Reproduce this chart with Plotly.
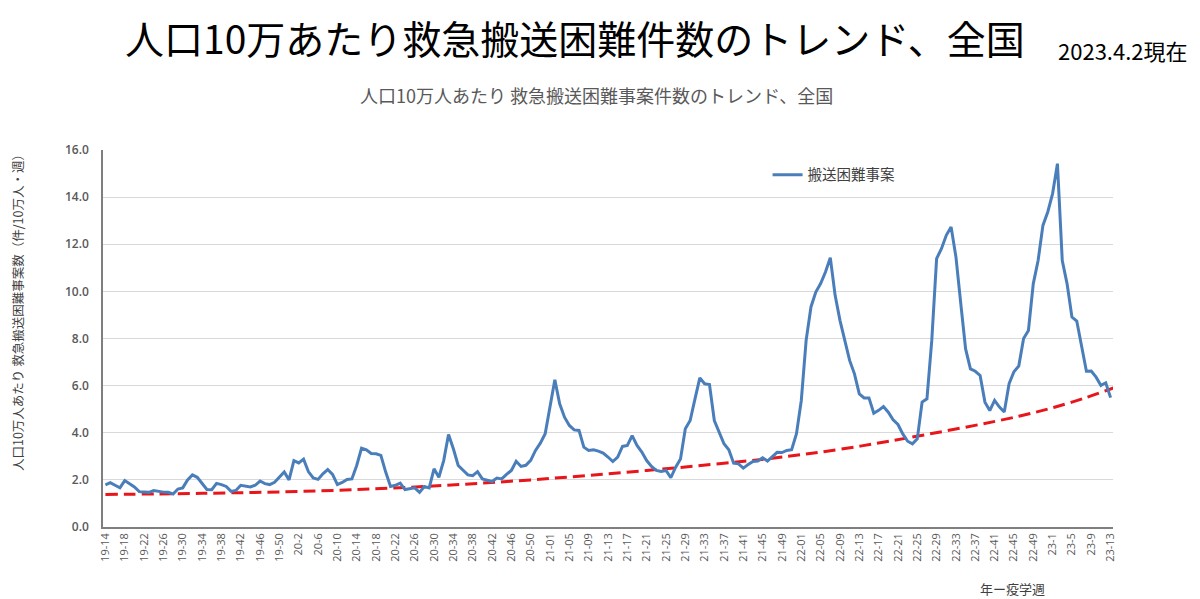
import plotly.graph_objects as go

# weekly values, 19-14 .. 23-13 (209 weeks)
values = [
    1.79, 1.88, 1.77, 1.66, 1.97, 1.84, 1.70, 1.50, 1.48, 1.47,
    1.55, 1.51, 1.48, 1.47, 1.40, 1.61, 1.66, 2.00, 2.21, 2.11,
    1.86, 1.59, 1.58, 1.85, 1.80, 1.72, 1.51, 1.55, 1.77, 1.72,
    1.70, 1.77, 1.95, 1.84, 1.80, 1.90, 2.14, 2.34, 2.00, 2.82,
    2.72, 2.88, 2.35, 2.08, 2.02, 2.26, 2.44, 2.23, 1.80, 1.89,
    2.02, 2.04, 2.61, 3.35, 3.28, 3.12, 3.11, 3.04, 2.33, 1.72,
    1.77, 1.86, 1.59, 1.62, 1.66, 1.47, 1.72, 1.66, 2.47, 2.11,
    2.82, 3.93, 3.32, 2.61, 2.43, 2.21, 2.18, 2.35, 2.04, 1.97,
    1.93, 2.08, 2.04, 2.23, 2.40, 2.79, 2.57, 2.62, 2.83, 3.25,
    3.56, 3.96, 5.09, 6.25, 5.23, 4.66, 4.31, 4.12, 4.10, 3.39,
    3.25, 3.28, 3.22, 3.14, 2.97, 2.78, 2.97, 3.42, 3.46, 3.88,
    3.46, 3.18, 2.82, 2.57, 2.40, 2.36, 2.40, 2.09, 2.54, 2.89,
    4.17, 4.52, 5.44, 6.33, 6.08, 6.05, 4.52, 4.03, 3.53, 3.28,
    2.71, 2.68, 2.50, 2.65, 2.78, 2.80, 2.94, 2.80, 2.97, 3.17,
    3.16, 3.25, 3.28, 3.96, 5.37, 7.92, 9.34, 9.97, 10.33, 10.82,
    11.43, 9.83, 8.77, 7.92, 7.07, 6.50, 5.65, 5.48, 5.48, 4.83,
    4.95, 5.11, 4.87, 4.55, 4.35, 3.95, 3.64, 3.53, 3.74, 5.30,
    5.44, 7.92, 11.39, 11.81, 12.38, 12.73, 11.46, 9.48, 7.56, 6.71,
    6.61, 6.43, 5.30, 4.94, 5.37, 5.09, 4.88, 6.08, 6.59, 6.83,
    8.00, 8.34, 10.32, 11.31, 12.80, 13.37, 14.15, 15.42, 11.31, 10.32,
    8.91, 8.74, 7.64, 6.61, 6.62, 6.36, 6.01, 6.12, 5.49,
]

# labels shown every 4th week
tick_labels = [
    '19-14', '19-18', '19-22', '19-26', '19-30', '19-34', '19-38', '19-42', '19-46', '19-50',
    '20-2', '20-6', '20-10', '20-14', '20-18', '20-22', '20-26', '20-30', '20-34', '20-38',
    '20-42', '20-46', '20-50', '21-01', '21-05', '21-09', '21-13', '21-17', '21-21', '21-25',
    '21-29', '21-33', '21-37', '21-41', '21-45', '21-49', '22-01', '22-05', '22-09', '22-13',
    '22-17', '22-21', '22-25', '22-29', '22-33', '22-37', '22-41', '22-45', '22-49', '23-1',
    '23-5', '23-9', '23-13',
]

# trend curve (week index, value)
trend_week = [0, 20, 44, 66, 88, 112, 138, 152, 166, 189, 200, 211]
trend_val = [1.38, 1.43, 1.53, 1.72, 2.0, 2.4, 2.92, 3.3, 3.78, 4.7, 5.3, 6.08]

weeks = list(range(len(values)))
tick_pos = weeks[::4]

jp = 'Noto Sans CJK JP'

fig = go.Figure()

fig.add_trace(go.Scatter(
    x=trend_week, y=trend_val,
    mode='lines', line=dict(color='#e8161b', width=3, dash='12px,6px', shape='spline'),
    showlegend=False, hoverinfo='skip',
))

fig.add_trace(go.Scatter(
    x=weeks, y=values,
    mode='lines', name='搬送困難事案',
    line=dict(color='#4a7ebb', width=3),
))


def note(text, x, y, size, color, angle=0):
    # paper-positioned text, centred on (x, y)
    return dict(text=text, x=x, y=y, xref='paper', yref='paper', showarrow=False,
                xanchor='center', yanchor='middle', textangle=angle,
                font=dict(size=size, color=color, family=jp))


# page has an 8px body margin, so the figure is 8px smaller than the window
fig.update_layout(
    width=1192, height=591,
    margin=dict(l=95, r=87, t=142, b=72),
    paper_bgcolor='white', plot_bgcolor='white',
    font=dict(family=jp, color='#595959'),
    legend=dict(
        x=0.658, y=0.934, xanchor='left', yanchor='middle',
        font=dict(size=14.5, color='#404040', family=jp),
        bgcolor='rgba(0,0,0,0)',
    ),
    annotations=[
        note('人口10万あたり救急搬送困難件数のトレンド、全国', 0.467, 1.300, 39, 'black'),
        note('2023.4.2現在', 1.01, 1.265, 22, 'black'),
        note('人口10万人あたり 救急搬送困難事案件数のトレンド、全国', 0.489, 1.146, 18, '#595959'),
        note('年ー疫学週', 0.90, -0.162, 13, '#404040'),
        note('人口10万人あたり 救急搬送困難事案数（件/10万人・週）', -0.084, 0.576, 12.5, '#404040', -90),
    ],
)

fig.update_xaxes(
    range=[-0.5, 208.5],
    tickmode='array', tickvals=tick_pos, ticktext=tick_labels,
    tickangle=-90, tickfont=dict(size=11, color='#595959', family='Open Sans'),
    showgrid=False, zeroline=False,
    showline=True, linecolor='#7f7f7f', linewidth=1.5,
    ticks='',
)

fig.update_yaxes(
    range=[0, 16], dtick=2, tickformat='.1f',
    tickfont=dict(size=12, color='#595959', family='Open Sans', weight=600),
    showgrid=True, gridcolor='#d9d9d9', gridwidth=1,
    zeroline=False, showline=True, linecolor='#7f7f7f', linewidth=1.5,
    ticks='', ticklabelstandoff=10,
)

fig.write_html('out.html')
